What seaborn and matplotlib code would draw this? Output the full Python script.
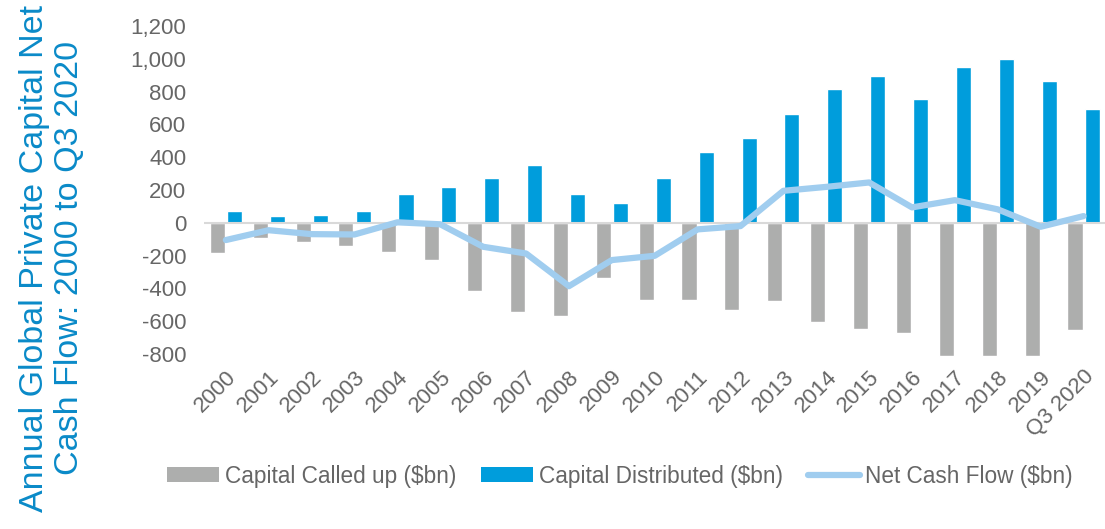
"""Annual global private capital net cash flow, 2000 to Q3 2020."""

import numpy as np
import pandas as pd
import matplotlib
matplotlib.use("Agg")
import matplotlib.pyplot as plt
import seaborn as sns
from matplotlib.patches import Patch
from matplotlib.lines import Line2D

years = ["2000", "2001", "2002", "2003", "2004", "2005", "2006", "2007",
         "2008", "2009", "2010", "2011", "2012", "2013", "2014", "2015",
         "2016", "2017", "2018", "2019", "Q3 2020"]
called_up = [-181, -91, -114, -144, -179, -229, -418, -545, -565, -339, -473,
             -471, -530, -476, -607, -650, -670, -809, -812, -812, -656]
distributed = [71, 43, 45, 71, 175, 216, 271, 354, 175, 118, 271,
               431, 515, 665, 817, 893, 756, 949, 996, 862, 693]
net_flow = [-105, -45, -69, -71, 3, -9, -146, -187, -386, -227, -201,
            -40, -20, 195, 219, 246, 94, 138, 82, -24, 41]

series_names = ["Capital Called up ($bn)", "Capital Distributed ($bn)"]
line_name = "Net Cash Flow ($bn)"

GRAY = "#adaead"
BLUE = "#009ddc"
LIGHT = "#a0cdef"
TEXT = "#666666"
TITLE = "#0a8ac8"

bars = pd.DataFrame({
    "year": years * 2,
    "series": [series_names[0]] * len(years) + [series_names[1]] * len(years),
    "value": called_up + distributed,
})
line = pd.DataFrame({"year": years, "net": net_flow})

sns.set_theme(style="white")
plt.rcParams["font.family"] = ["Liberation Sans", "DejaVu Sans"]

fig = plt.figure(figsize=(11.05, 5.29), dpi=100)
ax = fig.add_axes([0.185, 0.326, 0.815, 0.625])

sns.barplot(data=bars, x="year", y="value", hue="series", order=years,
            hue_order=series_names, palette=[GRAY, BLUE], width=0.8, gap=0.12,
            saturation=1, legend=False, ax=ax)
sns.lineplot(x=np.arange(len(years)), y=line["net"], color=LIGHT,
             linewidth=4.5, ax=ax, zorder=5)

ax.axhline(0, color="#d9d9d9", linewidth=1.5, zorder=1)
ax.set_xlim(-0.5, len(years) - 0.5)
ax.set_ylim(-815, 1200)
ax.set_yticks(range(-800, 1201, 200))
ax.set_yticklabels([f"{v:,}" for v in range(-800, 1201, 200)])
ax.set_xticks(range(len(years)))
ax.set_xticklabels(years, rotation=45, ha="right", rotation_mode="anchor")
ax.tick_params(axis="both", colors=TEXT, labelsize=16, length=0)
ax.tick_params(axis="x", pad=7)
ax.tick_params(axis="y", pad=13)
ax.set_xlabel("")
ax.set_ylabel("")
sns.despine(ax=ax, left=True, bottom=True)

fig.text(0.047, 0.512, "Annual Global Private Capital Net\nCash Flow: 2000 to Q3 2020",
         rotation=90, ha="center", va="center", multialignment="center",
         fontsize=24.5, color=TITLE, linespacing=1.2)

handles = [
    Patch(facecolor=GRAY, edgecolor="none", label=series_names[0]),
    Patch(facecolor=BLUE, edgecolor="none", label=series_names[1]),
    Line2D([0], [0], color=LIGHT, linewidth=4.5, label=line_name),
]
fig.legend(handles=handles, loc="center", bbox_to_anchor=(0.561, 0.1),
           ncol=3, frameon=False, fontsize=16.3, labelcolor=TEXT,
           handlelength=2.3, handleheight=0.6, handletextpad=0.25,
           columnspacing=1.1)

fig.savefig("out.png", dpi=100)
plt.close(fig)
